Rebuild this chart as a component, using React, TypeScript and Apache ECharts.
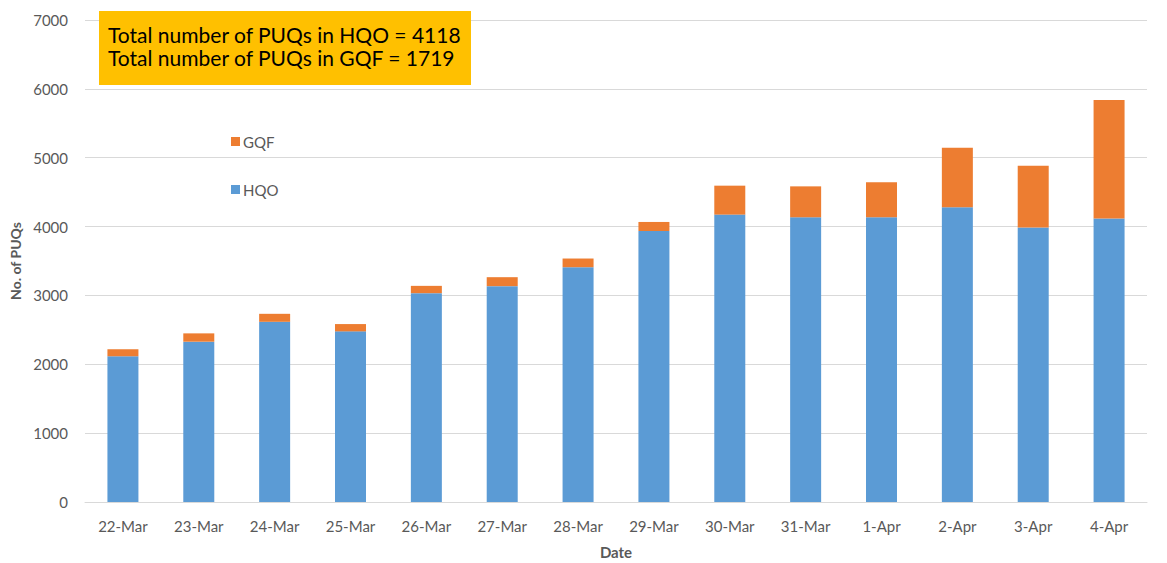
import React, { useEffect, useRef } from "react";
import * as echarts from "echarts";

const categories = ["22-Mar", "23-Mar", "24-Mar", "25-Mar", "26-Mar", "27-Mar", "28-Mar", "29-Mar", "30-Mar", "31-Mar", "1-Apr", "2-Apr", "3-Apr", "4-Apr"];
const hqo = [2116, 2328, 2617, 2478, 3033, 3135, 3410, 3936, 4174, 4135, 4135, 4280, 3986, 4118];
const gqf = [101, 121, 116, 106, 106, 130, 126, 131, 420, 449, 507, 865, 898, 1719];
const annotationLines = ["Total number of PUQs in HQO = 4118", "Total number of PUQs in GQF = 1719"];

const FONT = "Lato";
const GREY = "#595959";

export default function App() {
  const ref = useRef<HTMLDivElement>(null);
  useEffect(() => {
    if (!ref.current) return;
    const chart = echarts.init(ref.current, null, { renderer: "svg" });
    chart.setOption({
      animation: false,
      textStyle: { fontFamily: FONT },
      grid: { left: 85, right: 20, top: 20, bottom: 61, containLabel: false, outerBoundsMode: "none" },
      legend: {
        orient: "vertical",
        left: 226,
        top: 129,
        itemGap: 33,
        itemWidth: 9,
        itemHeight: 9,
        icon: "rect",
        data: ["GQF", "HQO"],
        textStyle: { color: GREY, fontSize: 15, fontFamily: FONT, padding: [0, 0, 0, -2] },
      },
      xAxis: {
        type: "category",
        data: categories,
        name: "Date",
        nameLocation: "middle",
        nameGap: 42,
        nameTextStyle: { color: GREY, fontSize: 15, fontWeight: "bold", fontFamily: FONT },
        axisLine: { lineStyle: { color: "#d9d9d9" } },
        axisTick: { show: false },
        axisLabel: { color: GREY, fontSize: 15, margin: 16, fontFamily: FONT },
      },
      yAxis: {
        type: "value",
        min: 0,
        max: 7000,
        interval: 1000,
        name: "No. of PUQs",
        nameLocation: "middle",
        nameGap: 62,
        nameTextStyle: { color: GREY, fontSize: 14, fontWeight: "bold", fontFamily: FONT },
        axisLine: { show: false },
        axisTick: { show: false },
        axisLabel: { color: GREY, fontSize: 15, margin: 17, fontFamily: FONT, formatter: (v: number) => String(v) },
        splitLine: { lineStyle: { color: "#d9d9d9", width: 1 } },
      },
      series: [
        {
          name: "HQO",
          type: "bar",
          stack: "total",
          data: hqo,
          barWidth: 31,
          itemStyle: { color: "#5B9BD5" },
        },
        {
          name: "GQF",
          type: "bar",
          stack: "total",
          data: gqf,
          barWidth: 31,
          itemStyle: { color: "#ED7D31" },
        },
      ],
      graphic: [
        {
          type: "rect",
          left: 99,
          top: 11,
          shape: { width: 372, height: 74 },
          style: { fill: "#FFC000" },
          z: 10,
        },
        {
          type: "text",
          left: 108,
          top: 24,
          style: { text: annotationLines[0], fill: "#000", fontSize: 21, fontFamily: FONT },
          z: 11,
        },
        {
          type: "text",
          left: 108,
          top: 47,
          style: { text: annotationLines[1], fill: "#000", fontSize: 21, fontFamily: FONT },
          z: 11,
        },
      ],
    });
    return () => chart.dispose();
  }, []);
  return (
    <div
      ref={ref}
      style={{ position: "fixed", left: 0, top: 0, width: 1167, height: 563, background: "#fff" }}
    />
  );
}
